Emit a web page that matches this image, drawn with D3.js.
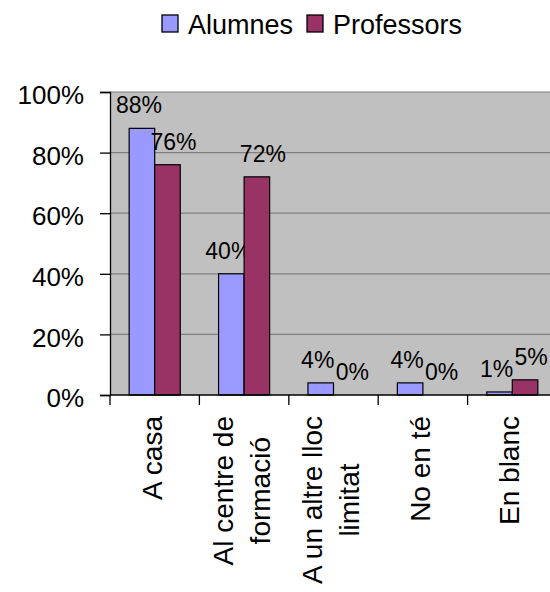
<!DOCTYPE html>
<meta charset="utf-8">
<head>
    <script type="text/javascript" src="https://cdn.jsdelivr.net/npm/d3@7"></script>
    <style>
        body { margin: 0; background: #fff; }
        text { font-family: "Liberation Sans", Arial, sans-serif; fill: #000; }
    </style>
    <title>Alumnes / Professors</title>
</head>
<body>
    <div id="chart"></div>
    <script>
        // data
        var categories = [["A casa"], ["Al centre de", "formació"], ["A un altre lloc", "limitat"], ["No en té"], ["En blanc"]];
        var seriesNames = ["Alumnes", "Professors"];
        var alumnes = [0.88, 0.40, 0.04, 0.04, 0.01];
        var professors = [0.76, 0.72, 0.00, 0.00, 0.05];
        var yTicks = [0, 0.2, 0.4, 0.6, 0.8, 1.0];

        var colors = ["#9999FF", "#993366"];
        var labelShift = [-3, 6];   // nudge labels apart, like Excel does
        var w = 550, h = 592;
        var pLeft = 110, pTop = 92, pBottom = 395, pRight = 557;

        var svg = d3.select("#chart").append("svg")
            .attr("width", w).attr("height", h);

        var x = d3.scaleBand()
            .domain(d3.range(categories.length))
            .range([pLeft, pRight])
            .paddingInner(0).paddingOuter(0);

        var inner = d3.scaleBand()
            .domain(seriesNames)
            .range([0, x.bandwidth()])
            .paddingInner(0)
            .paddingOuter(0.75);

        var y = d3.scaleLinear().domain([0, 1]).range([pBottom, pTop]);

        // plot background
        svg.append("rect")
            .attr("x", pLeft).attr("y", pTop)
            .attr("width", pRight - pLeft).attr("height", pBottom - pTop)
            .attr("fill", "#C0C0C0");

        // gridlines
        svg.append("g").selectAll("line")
            .data(yTicks.filter(d => d > 0))
            .enter().append("line")
            .attr("x1", pLeft).attr("x2", pRight)
            .attr("y1", d => y(d)).attr("y2", d => y(d))
            .attr("stroke", "#808080")
            .attr("stroke-width", 1.2);

        // bars
        var series = [alumnes, professors];
        series.forEach(function(vals, si) {
            var g = svg.append("g");
            g.selectAll("rect")
                .data(vals)
                .enter().append("rect")
                .attr("x", (d, i) => x(i) + inner(seriesNames[si]))
                .attr("y", d => y(d))
                .attr("width", inner.bandwidth())
                .attr("height", d => pBottom - y(d))
                .attr("fill", colors[si])
                .attr("stroke", "#000")
                .attr("stroke-width", 1.2);

            g.selectAll("text")
                .data(vals)
                .enter().append("text")
                .attr("x", (d, i) => x(i) + inner(seriesNames[si]) + inner.bandwidth() / 2 + labelShift[si])
                .attr("y", d => y(d) - 15)
                .attr("text-anchor", "middle")
                .style("font-size", "23px")
                .text(d => Math.round(d * 100) + "%");
        });

        // y axis
        var yAxis = d3.axisLeft(y)
            .tickValues(yTicks)
            .tickSize(10)
            .tickPadding(16)
            .tickFormat(d3.format(".0%"));
        var ya = svg.append("g")
            .attr("transform", "translate(" + pLeft + ",0)")
            .call(yAxis);
        ya.select(".domain").attr("stroke", "#000").attr("stroke-width", 1.3);
        ya.selectAll(".tick line").attr("stroke", "#000").attr("stroke-width", 1.3);
        ya.selectAll(".tick text")
            .style("font-size", "26px")
            .attr("fill", "#000")
            .attr("dy", "0.45em");

        // x axis
        svg.append("line")
            .attr("x1", pLeft).attr("x2", pRight)
            .attr("y1", pBottom).attr("y2", pBottom)
            .attr("stroke", "#000").attr("stroke-width", 1.3);
        svg.append("g").selectAll("line")
            .data(d3.range(categories.length))
            .enter().append("line")
            .attr("x1", d => x(d)).attr("x2", d => x(d))
            .attr("y1", pBottom).attr("y2", pBottom + 10)
            .attr("stroke", "#000").attr("stroke-width", 1.3);

        // category labels, rotated, top aligned at y=416
        var lineGap = 37;
        categories.forEach(function(lines, i) {
            var cx = x(i) + x.bandwidth() / 2;
            var n = lines.length;
            var g = svg.append("g");
            var texts = lines.map(function(t) {
                return g.append("text")
                    .attr("text-anchor", "middle")
                    .style("font-size", "28px")
                    .text(t);
            });
            var maxLen = d3.max(texts, t => t.node().getComputedTextLength());
            var cy = 416 + maxLen / 2;
            texts.forEach(function(t, li) {
                var lx = cx + (li - (n - 1) / 2) * lineGap + 7;
                t.attr("transform", "translate(" + lx + "," + cy + ") rotate(-90)");
            });
        });

        // legend
        var legendPos = [162, 307];
        var legend = svg.append("g");
        seriesNames.forEach(function(name, i) {
            legend.append("rect")
                .attr("x", legendPos[i]).attr("y", 15)
                .attr("width", 16).attr("height", 17)
                .attr("fill", colors[i])
                .attr("stroke", "#000").attr("stroke-width", 1.3);
            legend.append("text")
                .attr("x", legendPos[i] + 26).attr("y", 34)
                .style("font-size", "27px")
                .text(name);
        });
    </script>
</body>
</html>
